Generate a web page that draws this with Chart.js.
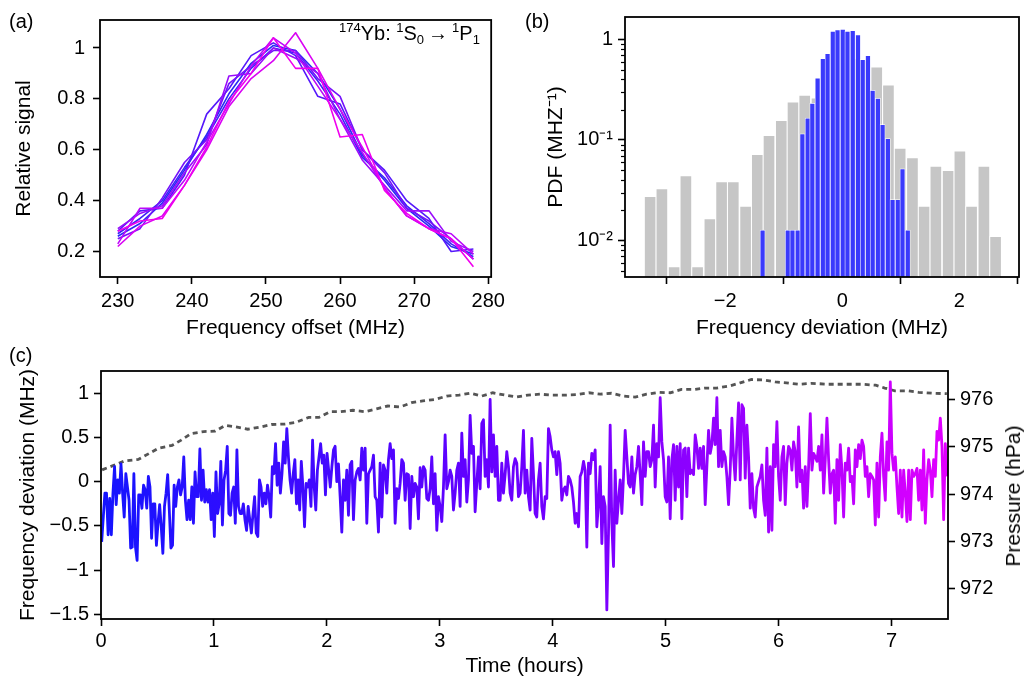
<!DOCTYPE html>
<html>
<head>
<meta charset="utf-8">
<script src="https://cdn.jsdelivr.net/npm/chart.js@4.4.0/dist/chart.umd.min.js"></script>
<style>
  body { margin: 0; background: #fff; width: 1025px; height: 679px; overflow: hidden; position: relative;
         font-family: "Liberation Sans", Arial, Helvetica, sans-serif; color: #000; }
  .box { position: absolute; }
  .tag { position: absolute; font-size: 20px; line-height: 20px; }
  .note { position: absolute; font-size: 20px; line-height: 26px; white-space: nowrap; }
  .note sup { font-size: 13px; vertical-align: 8px; line-height: 0; }
  .note sub { font-size: 13px; vertical-align: -4px; line-height: 0; }
  .vtitle { position: absolute; font-size: 21px; line-height: 24px; white-space: nowrap; transform: translate(-50%, -50%) rotate(-90deg); }
</style>
</head>
<body>
<div class="box" style="left:0;top:0;width:510px;height:345px"><canvas id="chartA"></canvas></div>
<div class="box" style="left:500px;top:0;width:525px;height:345px"><canvas id="chartB"></canvas></div>
<div class="box" style="left:0;top:340px;width:1025px;height:339px"><canvas id="chartC"></canvas></div>
<div class="tag" style="left:9px;top:11px">(a)</div>
<div class="tag" style="left:525px;top:11px">(b)</div>
<div class="tag" style="left:9px;top:345px">(c)</div>
<div class="note" style="left:339px;top:20px"><sup>174</sup>Yb: <sup>1</sup>S<sub>0</sub>&thinsp;→&thinsp;<sup>1</sup>P<sub>1</sub></div>
<div class="vtitle" style="left:1013px;top:496px">Pressure (hPa)</div>
<script>
// (a) line scans of the 1S0 -> 1P1 resonance
const scanOffset = [230, 233, 236, 239, 242, 245, 248, 251, 254, 257, 260, 263, 266, 269, 272, 275, 278];
const scan1 = [0.26, 0.31, 0.39, 0.52, 0.66, 0.82, 0.94, 1.01, 0.99, 0.90, 0.76, 0.58, 0.48, 0.37, 0.30, 0.22, 0.19];
const scan2 = [0.27, 0.33, 0.40, 0.53, 0.65, 0.80, 0.92, 1.00, 0.98, 0.87, 0.74, 0.57, 0.49, 0.38, 0.31, 0.23, 0.18];
const scan3 = [0.28, 0.36, 0.37, 0.50, 0.74, 0.84, 0.97, 1.02, 0.97, 0.81, 0.78, 0.60, 0.52, 0.40, 0.33, 0.20, 0.21];
const scan4 = [0.25, 0.29, 0.41, 0.55, 0.64, 0.86, 0.93, 0.99, 0.99, 0.88, 0.81, 0.60, 0.51, 0.37, 0.32, 0.25, 0.17];
const scan5 = [0.29, 0.35, 0.38, 0.51, 0.62, 0.89, 0.90, 1.00, 0.96, 0.90, 0.72, 0.56, 0.46, 0.36, 0.36, 0.24, 0.20];
const scan6 = [0.23, 0.37, 0.37, 0.48, 0.63, 0.78, 0.93, 1.04, 0.98, 0.85, 0.72, 0.59, 0.45, 0.34, 0.29, 0.27, 0.19];
const scan7 = [0.22, 0.30, 0.34, 0.46, 0.60, 0.77, 0.88, 0.95, 1.06, 0.92, 0.76, 0.61, 0.45, 0.34, 0.29, 0.25, 0.17];
const scan8 = [0.28, 0.32, 0.33, 0.46, 0.61, 0.79, 0.90, 1.04, 0.92, 0.92, 0.65, 0.66, 0.44, 0.35, 0.29, 0.25, 0.14];
const offsetTicks = [230, 240, 250, 260, 270, 280];
const signalTicks = [0.2, 0.4, 0.6, 0.8, 1];

// (b) histograms of the frequency deviation
const greyCenters = [-3.28, -3.08, -2.87, -2.67, -2.47, -2.26, -2.06, -1.86, -1.65, -1.45, -1.25, -1.04, -0.84, -0.64, -0.43,
  -0.23, -0.03, 0.18, 0.38, 0.59, 0.79, 0.99, 1.20, 1.40, 1.60, 1.81, 2.01, 2.21, 2.42, 2.62];
const greyPdf = [0.0275, 0.0329, 0.0055, 0.0443, 0.0055, 0.0165, 0.0385, 0.0385, 0.022, 0.072, 0.111, 0.157, 0.240, 0.280, 0.262,
  0.45, 0.60, 0.65, 0.62, 0.534, 0.354, 0.083, 0.067, 0.022, 0.055, 0.050, 0.078, 0.022, 0.055, 0.011];
const blueCenters = [-1.36, -1.27, -1.19, -1.10, -1.02, -0.93, -0.85, -0.76, -0.68, -0.59, -0.51, -0.42, -0.33, -0.25, -0.16,
  -0.08, 0.01, 0.09, 0.18, 0.27, 0.35, 0.44, 0.52, 0.61, 0.69, 0.78, 0.86, 0.95, 1.03, 1.12];
const bluePdf = [0.0127, null, null, null, null, 0.0127, 0.0127, 0.0127, 0.115, 0.165, 0.231, 0.411, 0.644, 0.721, 1.20,
  1.24, 1.26, 1.20, 1.22, 1.11, 0.63, 0.69, 0.312, 0.259, 0.142, 0.103, 0.0255, 0.0255, 0.0515, 0.0127];
const deviationTicks = [-2, 0, 2];
const pdfMajorTicks = [0.01, 0.1, 1];
const pdfMinorTicks = [0.005, 0.006, 0.007, 0.008, 0.009, 0.02, 0.03, 0.04, 0.05, 0.06, 0.07, 0.08, 0.09,
  0.2, 0.3, 0.4, 0.5, 0.6, 0.7, 0.8, 0.9];

// (c) frequency deviation over time, four stretches sampled evenly
const devSeg1 = [-0.68, -0.40, -0.13, -0.13, -0.60, -0.19, -0.60, -0.13, 0.17, -0.26,
  0.02, -0.13, 0.20, -0.13, -0.40, 0.09, -0.06, -0.21, -0.75, -0.74,
  0.09, -0.74, -0.89, -0.15, -0.15, -0.30, -0.04, -0.09, -0.30, 0.06,
  -0.06, -0.64, -0.25, -0.25, -0.72, -0.47, -0.26, -0.51, -0.81, -0.28,
  -0.13, 0.08, -0.32, -0.75, -0.72, -0.04, -0.28, -0.06, 0.02, -0.15,
  -0.06, 0.28, -0.21, -0.43, -0.21, -0.43, -0.06, -0.47, 0.11, -0.17,
  -0.17, 0.37, -0.21, 0.13, -0.23, -0.09, -0.23, -0.09, -0.43, -0.13,
  -0.62, 0.11, -0.36, -0.25, 0.23, -0.49, 0.02, 0.13, 0.40, -0.36,
  -0.38, -0.13, -0.06, -0.47, 0.36, -0.28, -0.36, -0.36, -0.25, -0.43,
  -0.55, -0.28, -0.43, -0.58, -0.36, -0.17, -0.58, -0.62, 0.02, -0.06,
  -0.28, -0.13, -0.25, -0.04, -0.17, -0.40, 0.17, 0.09, 0.43, -0.04,
  0.21, -0.13, 0.09, 0.45, 0.21, 0.60, 0.28, 0.02, -0.13, 0.09,
  0.25, -0.25, 0.02, -0.32, 0.23, -0.06, -0.51, -0.02, -0.06, 0.02,
  -0.28, 0.47, -0.06, -0.32, 0.13, 0.28, 0.43, 0.21, 0.30, -0.15,
  0.32, 0.13, -0.06, 0.17, 0.36, 0.40];
const devSeg2 = [0.00, 0.20, -0.17, -0.57, 0.02, -0.21, 0.13, -0.38, 0.19, 0.23,
  -0.43, 0.02, 0.11, 0.15, 0.02, 0.38, 0.13, 0.38, -0.47, 0.09,
  0.13, 0.17, 0.30, -0.17, -0.21, -0.57, 0.21, -0.40, 0.19, 0.13,
  -0.13, 0.25, 0.43, 0.26, 0.36, -0.47, -0.08, -0.19, -0.02, 0.25,
  0.21, -0.21, 0.09, 0.08, -0.53, 0.06, -0.17, -0.02, -0.06, -0.42,
  0.16, -0.06, 0.17, 0.13, -0.19, -0.21, -0.08, 0.28, -0.25, 0.09,
  -0.55, -0.17, -0.28, -0.45, -0.06, 0.53, -0.08, 0.00, 0.13, 0.06,
  -0.32, -0.13, 0.13, 0.21, -0.28, 0.55, 0.06, 0.25, -0.23, 0.02,
  0.75, 0.32, 0.40, -0.34, -0.02, 0.28, -0.08, 0.66, 0.70, 0.06,
  0.25, -0.06, 0.93, 0.11, 0.53, 0.06, 0.40, -0.21, -0.21, 0.21,
  -0.13, 0.08, 0.34, 0.17, -0.13, -0.21, 0.17, 0.26, 0.21, -0.17,
  -0.13, 0.17, 0.58, -0.13, 0.13, -0.17, -0.32, 0.49, 0.09, -0.36,
  -0.40, 0.02, 0.21, -0.28, -0.42, -0.17, -0.19, 0.60, 0.51, 0.36,
  0.28, 0.34, 0.08, 0.34, 0.21, -0.21, -0.09, -0.06, -0.15, 0.06,
  0.02];
const devSeg3 = [-0.06, -0.23, -0.47, -0.36, -0.51, 0.06, 0.11, 0.23, 0.13, -0.74,
  0.21, 0.09, 0.32, 0.25, 0.36, -0.51, -0.25, 0.17, -0.70, -0.17,
  -0.28, -1.45, -0.58, 0.64, -0.47, -0.96, 0.13, -0.47, -0.21, 0.02,
  -0.36, 0.06, 0.58, 0.28, -0.02, -0.06, 0.28, -0.13, 0.08, 0.17,
  0.40, 0.08, -0.26, 0.45, 0.06, 0.34, 0.34, 0.17, 0.25, 0.64,
  -0.06, 0.43, 0.28, 0.95, 0.45, 0.25, -0.17, -0.23, 0.28, -0.42,
  0.25, 0.42, -0.21, 0.40, -0.06, 0.43, -0.42, 0.36, 0.38, -0.17,
  0.38, 0.09, 0.13, 0.08, 0.53, 0.40, 0.15, 0.38, 0.15, 0.40,
  -0.26, 0.17, 0.58, 0.32, 0.42, 0.72, 0.42, 0.95, 0.17, 0.58,
  0.17, 0.34, 0.28, 0.06, -0.26, 0.13, 0.72, 0.28, 0.02, 0.47,
  0.89, 0.02, 0.87, 0.83, 0.04, 0.64, 0.28, -0.30, 0.09, -0.30,
  -0.40, -0.06, 0.00, 0.06, 0.19, -0.21, -0.38, 0.38, -0.57, 0.17,
  -0.55, 0.42, 0.17, 0.68, 0.06, -0.21, 0.28, 0.40, -0.26, 0.21,
  0.40, 0.36, 0.13, 0.45, 0.34, -0.06, 0.62, 0.00, 0.13, -0.30,
  0.17];
const devSeg4 = [-0.28, 0.17, 0.77, 0.13, 0.32, 0.28, 0.23, 0.40, 0.13, 0.53,
  -0.13, 0.25, 0.72, 0.25, -0.13, 0.09, 0.13, -0.47, 0.25, -0.21,
  0.42, 0.13, -0.40, 0.21, 0.13, 0.38, 0.00, 0.06, -0.25, 0.36,
  0.17, 0.42, 0.26, 0.47, 0.40, 0.06, 0.17, -0.17, 0.09, 0.06,
  0.02, -0.49, 0.21, -0.40, 0.28, 0.55, 0.06, -0.21, 0.45, 0.13,
  1.13, 0.32, 0.13, 0.28, -0.06, -0.36, 0.13, -0.40, 0.13, -0.13,
  -0.45, 0.13, -0.43, 0.13, 0.06, 0.09, 0.15, -0.21, 0.13, -0.32,
  0.36, -0.47, 0.02, 0.25, 0.13, -0.17, 0.25, 0.06, 0.57, 0.47,
  0.72, 0.40, -0.43, 0.43, 0.06];
const devSpans = [[0.006, 2.073], [2.088, 4.154], [4.169, 6.236], [6.251, 7.491]];
const pressTime = [0.01, 0.21, 0.33, 0.51, 0.63, 0.71, 0.80, 0.91, 1.01, 1.10, 1.19, 1.30, 1.42, 1.51, 1.63, 1.72, 1.84, 1.93,
  2.03, 2.12, 2.23, 2.34, 2.44, 2.54, 2.65, 2.75, 2.85, 2.96, 3.06, 3.17, 3.27, 3.37, 3.47, 3.58, 3.68, 3.78, 3.89, 3.99,
  4.11, 4.21, 4.32, 4.42, 4.52, 4.63, 4.73, 4.83, 4.94, 5.04, 5.14, 5.25, 5.35, 5.45, 5.56, 5.66, 5.76, 5.87, 5.97, 6.07,
  6.18, 6.29, 6.44, 6.59, 6.74, 6.86, 6.94, 7.03, 7.15, 7.24, 7.36, 7.49];
const pressure = [974.51, 974.70, 974.73, 974.97, 975.03, 975.14, 975.28, 975.32, 975.33, 975.45, 975.42, 975.37, 975.42,
  975.47, 975.48, 975.51, 975.62, 975.62, 975.74, 975.74, 975.77, 975.74, 975.80, 975.86, 975.84, 975.93, 975.97, 976.00,
  976.07, 976.09, 976.13, 976.07, 976.14, 976.09, 976.05, 976.09, 976.11, 976.09, 976.09, 976.10, 976.14, 976.11, 976.13,
  976.07, 976.05, 976.11, 976.15, 976.14, 976.21, 976.21, 976.24, 976.24, 976.28, 976.35, 976.42, 976.41, 976.37, 976.35,
  976.32, 976.34, 976.32, 976.32, 976.32, 976.30, 976.24, 976.18, 976.18, 976.15, 976.13, 976.12];
const timeTicks = [0, 1, 2, 3, 4, 5, 6, 7];
const deviationTicksC = [-1.5, -1, -0.5, 0, 0.5, 1];
const pressureTicks = [972, 973, 974, 975, 976];

const scans = [scan1, scan2, scan3, scan4, scan5, scan6, scan7, scan8];
const scanColors = ['#2a2af5', '#3b22f8', '#5518fb', '#7412fb', '#9a0dfb', '#bb08fa', '#d904f4', '#f000ee'];

Chart.defaults.font.family = '"Liberation Sans", Arial, Helvetica, sans-serif';
Chart.defaults.font.size = 20;
Chart.defaults.color = '#000';
Chart.defaults.animation = false;
Chart.defaults.maintainAspectRatio = false;
Chart.defaults.plugins.legend.display = false;
Chart.defaults.plugins.tooltip.enabled = false;

const titleFont = { size: 21 };
const minus = v => String(v).replace('-', '\u2212');
const fixTicks = list => s => { s.ticks = list.map(v => ({ value: v })); };
const tickGrid = len => ({ display: true, drawOnChartArea: false, drawTicks: true, tickLength: len, tickWidth: 1.6, tickColor: '#000' });

// box round the plot area
const frame = {
  id: 'frame',
  afterDraw(chart) {
    const a = chart.chartArea, c = chart.ctx;
    c.save();
    c.strokeStyle = '#000';
    c.lineWidth = 1.8;
    c.strokeRect(a.left, a.top, a.right - a.left, a.bottom - a.top);
    c.restore();
  }
};

// short minor ticks on the log axis
const minorTicks = {
  id: 'minorTicks',
  afterDraw(chart) {
    const s = chart.scales.y, a = chart.chartArea, c = chart.ctx;
    c.save();
    c.strokeStyle = '#000';
    c.lineWidth = 1.2;
    pdfMinorTicks.forEach(v => {
      const y = Math.round(s.getPixelForValue(v)) + 0.5;
      c.beginPath();
      c.moveTo(a.left - 4, y);
      c.lineTo(a.left, y);
      c.stroke();
    });
    c.restore();
  }
};

new Chart(document.getElementById('chartA'), {
  type: 'line',
  data: {
    datasets: scans.map((s, i) => ({
      data: scanOffset.map((x, j) => ({ x: x, y: s[j] })),
      borderColor: scanColors[i],
      borderWidth: 1.6,
      borderJoinStyle: 'round',
      pointRadius: 0,
      tension: 0,
      order: scans.length - 1 - i
    }))
  },
  options: {
    layout: { padding: { top: 12, right: 14, left: 0, bottom: 0 } },
    scales: {
      x: {
        type: 'linear', min: 227.6, max: 280.4,
        afterBuildTicks: fixTicks(offsetTicks),
        afterFit: s => { s.height = 68; },
        grid: tickGrid(7), border: { display: false },
        ticks: { padding: 5, maxRotation: 0, callback: v => String(v) },
        title: { display: true, text: 'Frequency offset (MHz)', font: titleFont, padding: { top: 0, bottom: 4 } }
      },
      y: {
        min: 0.1, max: 1.11,
        afterBuildTicks: fixTicks(signalTicks),
        afterFit: s => { s.width = 100; },
        grid: tickGrid(7), border: { display: false },
        ticks: { padding: 8, callback: v => String(v) },
        title: { display: true, text: 'Relative signal', font: titleFont, padding: { top: 12, bottom: 0 } }
      }
    }
  },
  plugins: [frame]
});

new Chart(document.getElementById('chartB'), {
  type: 'bar',
  data: {
    datasets: [
      {
        data: blueCenters.map((x, i) => ({ x: x, y: bluePdf[i] })),
        backgroundColor: '#3a3afc',
        borderColor: '#fff', borderWidth: 0.7,
        barThickness: 5, grouped: false, skipNull: true, order: 0
      },
      {
        data: greyCenters.map((x, i) => ({ x: x, y: greyPdf[i] })),
        backgroundColor: '#c6c6c6',
        borderColor: '#fff', borderWidth: 1,
        barThickness: 12, grouped: false, order: 1
      }
    ]
  },
  options: {
    layout: { padding: { top: 12, right: 6, left: 0, bottom: 0 } },
    scales: {
      x: {
        type: 'linear', min: -3.71, max: 3.02, offset: false,
        afterBuildTicks: fixTicks(deviationTicks),
        afterFit: s => { s.height = 68; },
        grid: tickGrid(7), border: { display: false },
        ticks: { padding: 5, maxRotation: 0, callback: v => minus(v) },
        title: { display: true, text: 'Frequency deviation (MHz)', font: titleFont, padding: { top: 0, bottom: 4 } }
      },
      y: {
        type: 'logarithmic', min: 0.00434, max: 1.67,
        afterBuildTicks: fixTicks(pdfMajorTicks),
        afterFit: s => { s.width = 125; },
        grid: tickGrid(7), border: { display: false },
        ticks: { padding: 5, callback: v => (v === 1 ? '1' : v === 0.1 ? '10\u207B\u00B9' : '10\u207B\u00B2') },
        title: { display: true, text: 'PDF (MHZ\u207B\u00B9)', font: titleFont, padding: { top: 44, bottom: 0 } }
      }
    }
  },
  plugins: [frame, minorTicks]
});

const devSegments = [devSeg1, devSeg2, devSeg3, devSeg4];
const devPoints = [];
devSegments.forEach((seg, k) => {
  const t0 = devSpans[k][0], t1 = devSpans[k][1];
  seg.forEach((v, i) => devPoints.push({ x: t0 + (t1 - t0) * i / (seg.length - 1), y: v }));
});

function timeGradient(context) {
  const chart = context.chart, a = chart.chartArea;
  if (!a) return '#1a1aff';
  const g = chart.ctx.createLinearGradient(a.left, 0, a.right, 0);
  g.addColorStop(0, 'rgb(20,20,255)');
  g.addColorStop(0.45, 'rgb(100,0,255)');
  g.addColorStop(0.75, 'rgb(150,0,255)');
  g.addColorStop(1, 'rgb(225,0,255)');
  return g;
}

new Chart(document.getElementById('chartC'), {
  type: 'line',
  data: {
    datasets: [
      {
        data: devPoints, yAxisID: 'y',
        borderColor: timeGradient, borderWidth: 2.8, borderJoinStyle: 'round',
        pointRadius: 0, tension: 0, order: 0
      },
      {
        data: pressTime.map((t, i) => ({ x: t, y: pressure[i] })), yAxisID: 'y2',
        borderColor: '#555', borderWidth: 2.8, borderDash: [5, 4],
        pointRadius: 0, tension: 0, order: 1
      }
    ]
  },
  options: {
    layout: { padding: { top: 31, right: 0, left: 0, bottom: 0 } },
    scales: {
      x: {
        type: 'linear', min: 0, max: 7.5,
        afterBuildTicks: fixTicks(timeTicks),
        afterFit: s => { s.height = 60; },
        grid: tickGrid(7), border: { display: false },
        ticks: { padding: 3, maxRotation: 0, callback: v => String(v) },
        title: { display: true, text: 'Time (hours)', font: titleFont, padding: { top: 0, bottom: 0 } }
      },
      y: {
        position: 'left', min: -1.553, max: 1.252,
        afterBuildTicks: fixTicks(deviationTicksC),
        afterFit: s => { s.width = 101; },
        grid: tickGrid(7), border: { display: false },
        ticks: { padding: 5, callback: v => minus(v) },
        title: { display: true, text: 'Frequency deviation (MHz)', font: titleFont, padding: { top: 16, bottom: 0 } }
      },
      y2: {
        position: 'right', min: 971.36, max: 976.6,
        afterBuildTicks: fixTicks(pressureTicks),
        afterFit: s => { s.width = 77; },
        grid: tickGrid(7), border: { display: false },
        ticks: { padding: 5, callback: v => String(v) },
        title: { display: false }
      }
    }
  },
  plugins: [frame]
});
</script>
</body>
</html>
